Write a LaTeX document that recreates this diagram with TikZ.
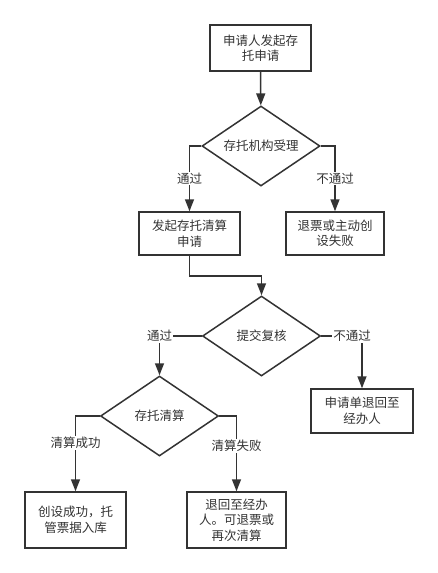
\documentclass[tikz,border=0pt]{standalone}
\usepackage{fontspec}
\newfontfamily\cjk{Noto Sans CJK SC}
\usetikzlibrary{arrows.meta,shapes.geometric}
\definecolor{FlowLine}{HTML}{333333}

\begin{document}
\begin{tikzpicture}[x=1pt,y=-1pt,
    box/.style={draw=FlowLine,line width=1.5pt,fill=white,align=center,inner sep=2pt,font=\cjk\fontsize{12.5}{15.5}\selectfont,text=FlowLine},
    check/.style={draw=FlowLine,line width=1.5pt,diamond,aspect=1.475,inner sep=0pt,minimum width=118pt,minimum height=80pt,font=\cjk\fontsize{12.5}{15.5}\selectfont,text=FlowLine},
    link/.style={draw=FlowLine,line width=1.5pt,-{Triangle[length=12pt,width=9pt]}},
    tag/.style={fill=white,inner sep=1pt,font=\cjk\fontsize{12.5}{15.5}\selectfont,text=FlowLine}]
    \useasboundingbox (0,0) rectangle (438,573);
    \fill[white] (0,0) rectangle (438,573);
    \node[box,minimum width=101pt,minimum height=46pt] (apply) at (260.5,48) {申请人发起存\\托申请};
    \node[check] (accept) at (261,146) {存托机构受理};
    \node[box,minimum width=101pt,minimum height=43pt] (launch) at (189.5,233.5) {发起存托清算\\申请};
    \node[box,minimum width=98pt,minimum height=43pt] (refund) at (335,233.5) {退票或主动创\\设失败};
    \node[check] (review) at (261.5,336) {提交复核};
    \node[box,minimum width=102pt,minimum height=44pt] (back) at (362,411) {申请单退回至\\经办人};
    \node[check] (clear) at (159.5,416) {存托清算};
    \node[box,minimum width=101pt,minimum height=56pt] (done) at (75.5,520) {创设成功，托\\管票据入库};
    \node[box,minimum width=99pt,minimum height=56pt] (fail) at (236.5,520) {退回至经办\\人。可退票或\\再次清算};
    \draw[link] (apply) -- (accept);
    \draw[link] (accept.west) -| node[tag,pos=.75] {通过} (launch);
    \draw[link] (accept.east) -| node[tag,pos=.75] {不通过} (refund);
    \draw[link] (launch.south) -- ++(0,20) -| (review.north);
    \draw[link] (review.west) -| node[tag,pos=.5] {通过} (clear);
    \draw[link] (review.east) -| node[tag,pos=.38] {不通过} (back);
    \draw[link] (clear.west) -| node[tag,pos=.68] {清算成功} (done);
    \draw[link] (clear.east) -| node[tag,pos=.7] {清算失败} (fail);
\end{tikzpicture}
\end{document}
